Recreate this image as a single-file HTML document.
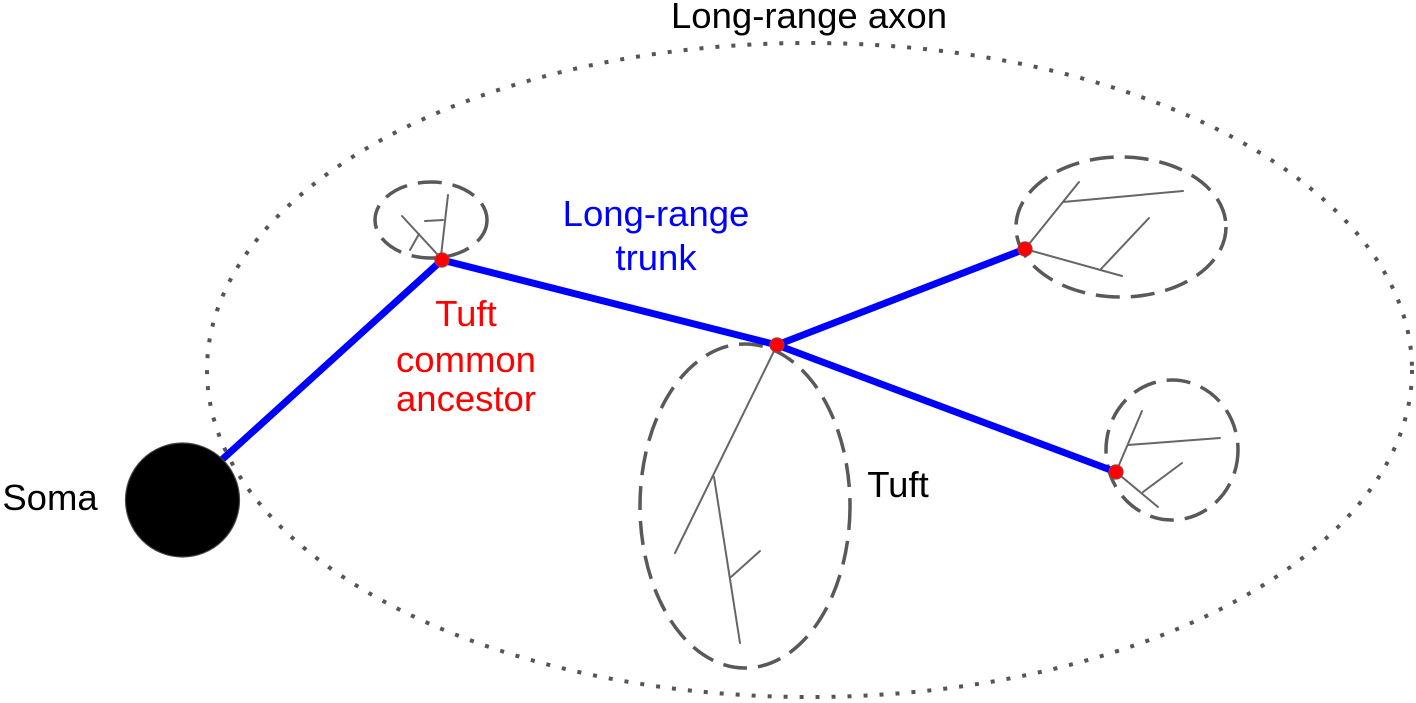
<!DOCTYPE html>
<html>
<head>
<meta charset="utf-8">
<style>
  html, body { margin: 0; padding: 0; background: #fff; }
  svg { display: block; }
  text { font-family: "Liberation Sans", Arial, sans-serif; font-size: 36.5px; }
</style>
</head>
<body>
<svg width="1416" height="703" viewBox="0 0 1416 703" xmlns="http://www.w3.org/2000/svg">
  <rect width="1416" height="703" fill="#fff"/>

  <!-- Long-range axon dotted ellipse -->
  <ellipse cx="809.5" cy="370" rx="602.5" ry="327" fill="none" stroke="#555" stroke-width="4" stroke-dasharray="4 12"/>

  <!-- Tuft ellipses -->
  <g fill="none" stroke="#595959" stroke-width="3.5" stroke-dasharray="24 11">
    <ellipse cx="431" cy="220" rx="56" ry="38"/>
    <ellipse cx="1121" cy="227" rx="105" ry="70"/>
    <ellipse cx="1172" cy="450" rx="66" ry="70"/>
    <ellipse cx="745" cy="506" rx="105" ry="162"/>
  </g>

  <!-- Tuft branches -->
  <g stroke="#666" stroke-width="2" fill="none" stroke-linecap="round">
    <!-- small tuft -->
    <line x1="448" y1="195" x2="441" y2="256"/>
    <line x1="443" y1="220" x2="425" y2="221"/>
    <line x1="402" y1="216" x2="438" y2="255"/>
    <line x1="410" y1="250" x2="419" y2="234"/>
    <!-- top-right tuft -->
    <line x1="1025" y1="249" x2="1079" y2="182"/>
    <line x1="1063" y1="202" x2="1183" y2="191"/>
    <line x1="1025" y1="249" x2="1122" y2="276"/>
    <line x1="1101" y1="269" x2="1149" y2="218"/>
    <!-- bottom-right tuft -->
    <line x1="1116" y1="472" x2="1142" y2="411"/>
    <line x1="1128" y1="445" x2="1220" y2="438"/>
    <line x1="1116" y1="472" x2="1158" y2="507"/>
    <line x1="1143" y1="492" x2="1182" y2="463"/>
    <!-- large tuft -->
    <line x1="777" y1="345" x2="675" y2="553"/>
    <line x1="714" y1="477" x2="740" y2="643"/>
    <line x1="731" y1="577" x2="760" y2="551"/>
  </g>

  <!-- Blue trunk -->
  <g stroke="#0000ff" stroke-width="7" fill="none">
    <line x1="215" y1="466" x2="442" y2="260"/>
    <line x1="442" y1="260" x2="777" y2="345"/>
    <line x1="777" y1="345" x2="1025" y2="249"/>
    <line x1="777" y1="345" x2="1116" y2="472"/>
  </g>

  <!-- Soma -->
  <circle cx="182.5" cy="500" r="57" fill="#000" stroke="#444" stroke-width="1.2"/>

  <!-- Red nodes -->
  <g fill="#ff0000" stroke="#b03030" stroke-width="1.2">
    <circle cx="442" cy="260" r="7"/>
    <circle cx="777" cy="345" r="7"/>
    <circle cx="1025" cy="249" r="7"/>
    <circle cx="1116" cy="472" r="7"/>
  </g>

  <!-- Labels -->
  <text x="809" y="28" text-anchor="middle" fill="#000">Long-range axon</text>
  <text x="656" y="226" text-anchor="middle" fill="#0000ff">Long-range</text>
  <text x="656" y="270" text-anchor="middle" fill="#0000ff">trunk</text>
  <text x="466" y="326" text-anchor="middle" fill="#ff0000">Tuft</text>
  <text x="466" y="372" text-anchor="middle" fill="#ff0000">common</text>
  <text x="466" y="411" text-anchor="middle" fill="#ff0000">ancestor</text>
  <text x="898" y="497" text-anchor="middle" fill="#000">Tuft</text>
  <text x="50" y="510" text-anchor="middle" fill="#000">Soma</text>
</svg>
</body>
</html>
